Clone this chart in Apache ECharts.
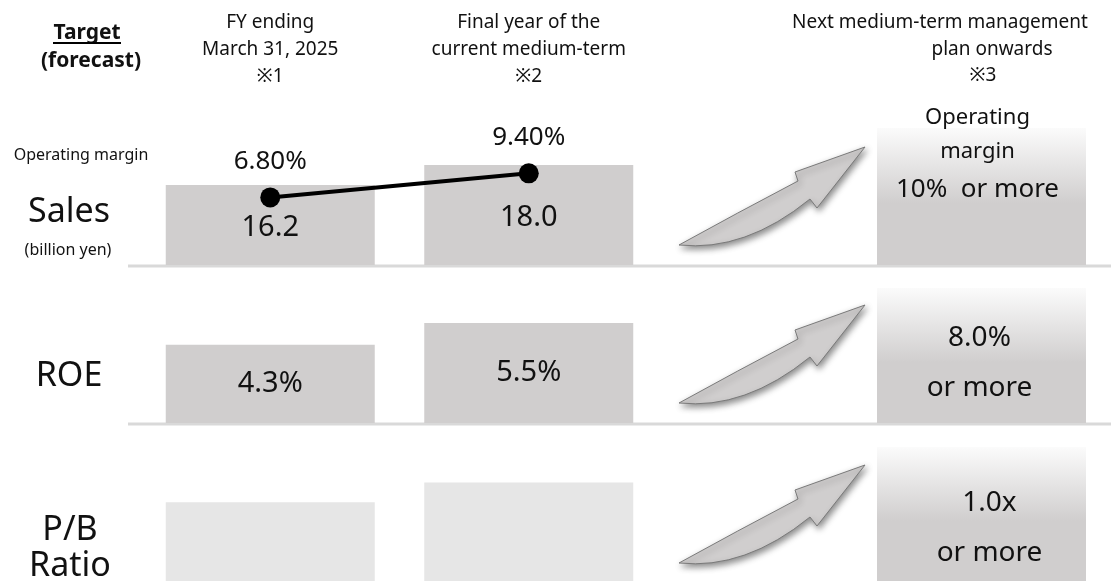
<!DOCTYPE html>
<html>
<head>
<meta charset="utf-8">
<script src="https://cdn.jsdelivr.net/npm/echarts@6/dist/echarts.min.js"></script>
<style>
  html, body { margin: 0; padding: 0; background: #ffffff; }
  #chart { width: 1111px; height: 581px; }
</style>
</head>
<body>
<div id="chart"></div>
<script>
// Period headers for the two result / plan columns
const periods = ['FY ending\nMarch 31, 2025\n※1', 'Final year of the\ncurrent medium-term\n※2'];
// Header of the long-term target column (three staggered lines)
const targetHeader = ['Next medium-term management', 'plan onwards', '※3'];

// Sales (billion yen) and operating margin (%)
const sales = [16.2, 18.0];
const operatingMargin = [6.8, 9.4];
// Return on equity (%)
const roe = [4.3, 5.5];
// Price-to-book ratio (unlabelled bars)
const pbr = [0.6, 0.75];

// Targets for the next medium-term plan
const targetOperatingMargin = [10];
const targetRoe = [8.0];
const targetPbr = [1.0];

const FONT = '"Noto Sans", "Open Sans", sans-serif';
const INK = '#111111';
const BAR = '#d0cece';
const BAR_LIGHT = '#e6e6e6';

// Row bands: [top, height] of each metric row
const rows = [[128, 137], [288, 135], [447, 136]];
const pairGrid = { left: 141, width: 517 };
const goalGrid = { left: 852, width: 259 };

const grids = [];
rows.forEach(([top, height]) => {
  grids.push({ left: pairGrid.left, width: pairGrid.width, top, height });
  grids.push({ left: goalGrid.left, width: goalGrid.width, top, height });
});

const xAxes = grids.map((g, i) => {
  const pair = i % 2 === 0;
  const ax = {
    type: 'category', gridIndex: i,
    data: pair ? periods : ['target'],
    axisLine: { show: false }, axisTick: { show: false },
    axisLabel: { show: false }, splitLine: { show: false }
  };
  if (i === 0) {
    ax.position = 'top';
    ax.axisLabel = {
      show: true, margin: 38, fontSize: 19, lineHeight: 27,
      color: INK, fontFamily: FONT, align: 'center'
    };
  }
  return ax;
});

const yAxes = [
  { gridIndex: 0, type: 'value', min: 9, max: 21.33, show: false },      // sales
  { gridIndex: 0, type: 'value', min: -0.5, max: 14.3, show: false },    // operating margin
  { gridIndex: 1, type: 'value', min: 0, max: 'dataMax', show: false },  // margin target
  { gridIndex: 2, type: 'value', min: 0, max: 7.42, show: false },       // ROE
  { gridIndex: 3, type: 'value', min: 0, max: 'dataMax', show: false },  // ROE target
  { gridIndex: 4, type: 'value', min: 0, max: 1.02, show: false },       // P/B
  { gridIndex: 5, type: 'value', min: 0, max: 'dataMax', show: false }   // P/B target
];

const goalFill = new echarts.graphic.LinearGradient(0, 0, 0, 1, [
  { offset: 0, color: '#fbfbfb' },
  { offset: 0.55, color: BAR },
  { offset: 1, color: BAR }
]);

const barBase = { type: 'bar', barWidth: 209, silent: true, animation: false };

const series = [
  Object.assign({}, barBase, {
    name: 'Sales', xAxisIndex: 0, yAxisIndex: 0, data: sales,
    itemStyle: { color: BAR },
    label: {
      show: true, position: 'inside', offset: [0, 3], color: INK,
      fontSize: 29, fontFamily: FONT, formatter: p => p.value.toFixed(1)
    }
  }),
  {
    name: 'Operating margin', type: 'line', xAxisIndex: 0, yAxisIndex: 1,
    data: operatingMargin, silent: true, animation: false, z: 5,
    symbol: 'circle', symbolSize: 20,
    lineStyle: { color: '#000', width: 4 },
    itemStyle: { color: '#000' },
    label: {
      show: true, position: 'top', distance: 13, color: INK,
      fontSize: 26, fontFamily: FONT, formatter: p => p.value.toFixed(2) + '%'
    }
  },
  Object.assign({}, barBase, {
    name: 'Operating margin target', xAxisIndex: 1, yAxisIndex: 2,
    data: targetOperatingMargin, itemStyle: { color: goalFill },
    label: {
      show: true, position: 'insideTop', distance: 0, offset: [-4, -27],
      formatter: p => `{a|Operating}\n{a|margin}\n{b|${p.value}%  or more}`,
      rich: {
        a: { fontSize: 22, lineHeight: 34, color: INK, fontFamily: FONT },
        b: { fontSize: 26, lineHeight: 42, color: INK, fontFamily: FONT }
      }
    }
  }),
  Object.assign({}, barBase, {
    name: 'ROE', xAxisIndex: 2, yAxisIndex: 3, data: roe,
    itemStyle: { color: BAR },
    label: {
      show: true, position: 'inside', color: INK,
      fontSize: 29, fontFamily: FONT, formatter: p => p.value.toFixed(1) + '%'
    }
  }),
  Object.assign({}, barBase, {
    name: 'ROE target', xAxisIndex: 3, yAxisIndex: 4,
    data: targetRoe, itemStyle: { color: goalFill },
    label: {
      show: true, position: 'insideTop', distance: 25, offset: [-2, 0],
      formatter: p => `{c|${p.value.toFixed(1)}%}\n{c|or more}`,
      rich: { c: { fontSize: 28, lineHeight: 50, color: INK, fontFamily: FONT } }
    }
  }),
  Object.assign({}, barBase, {
    name: 'P/B Ratio', xAxisIndex: 4, yAxisIndex: 5, data: pbr,
    itemStyle: { color: BAR_LIGHT }
  }),
  Object.assign({}, barBase, {
    name: 'P/B Ratio target', xAxisIndex: 5, yAxisIndex: 6,
    data: targetPbr, itemStyle: { color: goalFill },
    label: {
      show: true, position: 'insideTop', distance: 31, offset: [8, 0],
      formatter: p => `{c|${p.value.toFixed(1)}x}\n{c|or more}`,
      rich: { c: { fontSize: 28, lineHeight: 50, color: INK, fontFamily: FONT } }
    }
  }),
  // Curved "rising" arrows pointing at each target column
  {
    type: 'custom', coordinateSystem: 'none', silent: true, animation: false, z: 4,
    data: rows.map((r, i) => i),
    renderItem: (params) => {
      const [top, height] = rows[params.dataIndex];
      return {
        type: 'path',
        x: 679, y: top + height - 20,
        shape: {
          pathData: 'M0 0 Q58 -32 119 -64 L116 -73 L186 -98 L138 -37 L131 -46 Q66 7 0 0 Z'
        },
        style: {
          fill: BAR, stroke: '#7a7a7a', lineWidth: 1,
          shadowBlur: 6, shadowColor: 'rgba(0,0,0,0.45)',
          shadowOffsetX: 2, shadowOffsetY: 3
        }
      };
    }
  }
];

function txt(text, x, y, size, opts) {
  return {
    type: 'text', x, y, silent: true,
    style: Object.assign({
      text, fill: INK, fontSize: size, fontFamily: FONT,
      align: 'center', verticalAlign: 'middle'
    }, opts || {})
  };
}

const graphics = [
  // heading running off the top edge
  txt('planning', 244, 0.5, 34, {
    align: 'left', verticalAlign: 'bottom',
    fontFamily: '"Liberation Serif", "DejaVu Serif", serif', fill: '#000'
  }),
  txt('Target', 87, 33, 21, { fontWeight: 'bold' }),
  { type: 'line', silent: true, shape: { x1: 53, y1: 43, x2: 121, y2: 43 },
    style: { stroke: '#000', lineWidth: 2 } },
  txt('(forecast)', 91, 61, 21, { fontWeight: 'bold' }),
  txt(targetHeader[0], 940, 23, 19),
  txt(targetHeader[1], 992, 50, 19),
  txt(targetHeader[2], 983, 76, 19),
  txt('Operating margin', 81, 155, 16),
  txt('Sales', 69, 212, 34),
  txt('(billion yen)', 68, 250, 16),
  txt('ROE', 69, 376, 34),
  txt('P/B', 70, 530, 34),
  txt('Ratio', 70, 566, 34)
];
// separators under the first two rows
rows.slice(0, 2).forEach(([top, height]) => {
  graphics.push({
    type: 'rect', silent: true, z: -1,
    shape: { x: 128, y: top + height - 0.5, width: 983, height: 3 },
    style: { fill: '#d9d9d9' }
  });
});

const chart = echarts.init(document.getElementById('chart'), null, { renderer: 'canvas' });
chart.setOption({
  animation: false,
  backgroundColor: '#ffffff',
  grid: grids,
  xAxis: xAxes,
  yAxis: yAxes,
  series,
  graphic: graphics
});
</script>
</body>
</html>
